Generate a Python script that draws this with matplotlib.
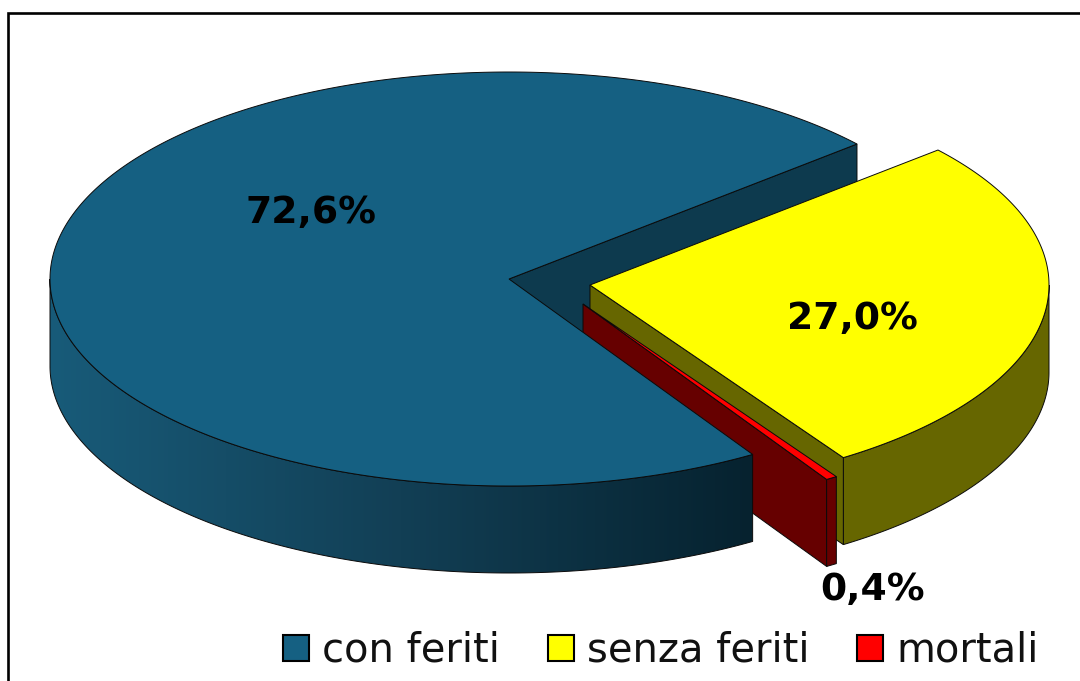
import numpy as np
import matplotlib
matplotlib.use("Agg")
import matplotlib.pyplot as plt
from matplotlib.patches import Polygon, Patch
from matplotlib.colors import LinearSegmentedColormap

categories = ["con feriti", "senza feriti", "mortali"]
shares = [72.6, 27.0, 0.4]
share_labels = ["72,6%", "27,0%", "0,4%"]

COL_TOP = {"con feriti": "#156082", "senza feriti": "#FFFF00", "mortali": "#FF0000"}
COL_SIDE = {"con feriti": "#0D3A4E", "senza feriti": "#666600", "mortali": "#660000"}
RX, RY, DEPTH = 459.0, 207.0, 87.0
APEX = {"con feriti": (509, 279), "senza feriti": (590, 285), "mortali": (583, 304)}
LABEL_POS = {"con feriti": (311.5, 213), "senza feriti": (852.5, 319), "mortali": (873, 590)}
START = 40.7
EDGE = dict(edgecolor="#0a0a0a", linewidth=0.7)

fig = plt.figure(figsize=(10.8, 6.81), dpi=100, facecolor="white")
ax = fig.add_axes([0, 0, 1, 1])
ax.set_xlim(0, 1080)
ax.set_ylim(681, 0)
ax.axis("off")

# slice spans, clockwise from START: senza feriti, mortali, con feriti
spans = {}
a = START
for name in ["senza feriti", "mortali", "con feriti"]:
    sweep = shares[categories.index(name)] * 3.6
    spans[name] = (a, a - sweep)
    a -= sweep


def rim(name, t):
    cx, cy = APEX[name]
    t = np.radians(t)
    return np.column_stack([cx + RX * np.cos(t), cy - RY * np.sin(t)])


def arc(name, t0, t1):
    return rim(name, np.linspace(t0, t1, 400))


def top(name, z):
    t0, t1 = spans[name]
    pts = np.vstack([[APEX[name]], arc(name, t0, t1)])
    ax.add_patch(Polygon(pts, closed=True, facecolor=COL_TOP[name], zorder=z, **EDGE))


def wall(pts, color, z):
    pts = np.asarray(pts, float)
    full = np.vstack([pts, (pts + [0, DEPTH])[::-1]])
    return ax.add_patch(Polygon(full, closed=True, facecolor=color, zorder=z, **EDGE))


def cut(name, t, z):
    wall(np.vstack([[APEX[name]], rim(name, np.array([t]))]), COL_SIDE[name], z)


# blue back cut face
cut("con feriti", START, 1)

# yellow
y0, y1 = spans["senza feriti"]
wall(arc("senza feriti", 0, y1), COL_SIDE["senza feriti"], 2)
cut("senza feriti", y1, 2.1)
top("senza feriti", 2.2)

# red
r0, r1 = spans["mortali"]
cut("mortali", r1, 3)
wall(arc("mortali", r0, r1), COL_SIDE["mortali"], 3.1)
top("mortali", 3.2)

# blue rim with a horizontal gradient, and top
b0, b1 = spans["con feriti"]
rim_pts = arc("con feriti", -180, b0)
xmin, xmax = rim_pts[:, 0].min(), rim_pts[:, 0].max()
cmap = LinearSegmentedColormap.from_list("rim", ["#185B79", "#123F55", "#06222F"])
clip = wall(rim_pts, "none", 4.1)
im = ax.imshow(np.linspace(0, 1, 256)[None, :], extent=(xmin, xmax, 600, 200),
               cmap=cmap, aspect="auto", zorder=4, interpolation="bilinear")
im.set_clip_path(clip)
ax.set_xlim(0, 1080)
ax.set_ylim(681, 0)
top("con feriti", 4.2)

# percentage labels
for name, lab in zip(categories, share_labels):
    ax.text(*LABEL_POS[name], lab, ha="center", va="center", fontsize=27.2,
            fontweight="bold", family="DejaVu Sans", color="black", zorder=6)

# frame (left and top only)
ax.plot([8, 8, 1080], [681, 13, 13], color="black", lw=1.9, zorder=7,
        solid_joinstyle="miter", clip_on=False)

handles = [Patch(facecolor=COL_TOP[c], edgecolor="black", linewidth=1.5, label=c) for c in categories]
leg = ax.legend(handles=handles, ncol=3, loc="center left", bbox_to_anchor=(283 / 1080, 1 - 651 / 681),
                bbox_transform=fig.transFigure, frameon=False, borderpad=0, borderaxespad=0,
                prop={"family": "DejaVu Sans", "size": 28.8}, handlelength=0.65, handleheight=0.62,
                handletextpad=0.325, columnspacing=1.2, labelcolor="#111111")
leg.set_zorder(8)

fig.savefig("out.png", dpi=100, facecolor="white")
